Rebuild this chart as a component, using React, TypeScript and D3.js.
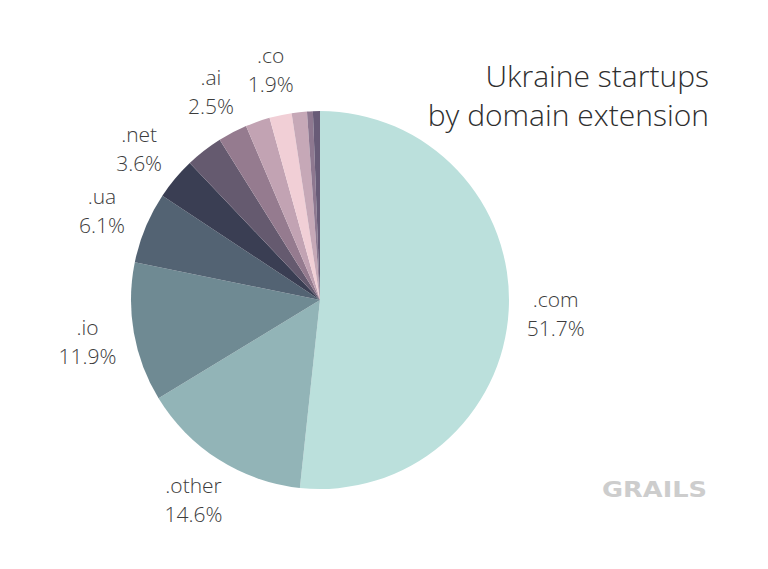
import React from "react";
import * as d3 from "d3";

const categories = [".com", ".other", ".io", ".ua", ".net", "", ".ai", "", ".co", "", "", ""];
const values = [51.7, 14.6, 11.9, 6.1, 3.6, 3.2, 2.5, 2.1, 1.9, 1.3, 0.5, 0.6];
const valueLabels = ["51.7%", "14.6%", "11.9%", "6.1%", "3.6%", "", "2.5%", "", "1.9%", "", "", ""];
const colors = [
  "#bbe0dc", "#92b4b7", "#6f8a93", "#536373", "#3a3e53", "#655a6f",
  "#957b8f", "#c2a3b3", "#f1cfd6", "#c6a8b7", "#8e7890", "#685b77",
];
const titleLines = ["Ukraine startups", "by domain extension"];

const W = 768;
const H = 569;
const cx = 320;
const cy = 300;
const R = 189;
const LR = 236;

export default function App() {
  const data = values.map((v, i) => ({ v, i }));
  const pie = d3.pie<{ v: number; i: number }>().value((d) => d.v).sort(null);
  const arcs = pie(data);
  const arc = d3.arc<d3.PieArcDatum<{ v: number; i: number }>>().innerRadius(0).outerRadius(R);
  const labelArc = d3.arc<d3.PieArcDatum<{ v: number; i: number }>>().innerRadius(LR).outerRadius(LR);
  const font = "'Open Sans', 'Noto Sans', sans-serif";
  return (
    <svg width={W} height={H} style={{ position: "absolute", left: 0, top: 0, background: "#fff" }}>
      <g transform={`translate(${cx},${cy})`}>
        {arcs.map((a, k) => (
          <path key={k} d={arc(a) || ""} fill={colors[a.data.i]} />
        ))}
        {arcs.map((a, k) => {
          if (!categories[a.data.i]) return null;
          const [x, y] = labelArc.centroid(a);
          return (
            <g key={"l" + k} fontFamily={font} fontWeight={300} fontSize={21} fill="#3c3c3c" textAnchor="middle">
              <text x={x} y={y - 6}>{categories[a.data.i]}</text>
              <text x={x} y={y + 23}>{valueLabels[a.data.i]}</text>
            </g>
          );
        })}
      </g>
      <g fontFamily={font} fontWeight={300} fontSize={30} fill="#2e2e2e" textAnchor="end">
        {titleLines.map((t, i) => (
          <text key={i} x={709} y={87 + i * 39}>{t}</text>
        ))}
      </g>
      <text x={602} y={497} fontFamily="'DejaVu Sans', sans-serif" fontWeight={700} fontSize={21}
        fill="#cdcdcd" textLength={105} lengthAdjust="spacingAndGlyphs">GRAILS</text>
    </svg>
  );
}
